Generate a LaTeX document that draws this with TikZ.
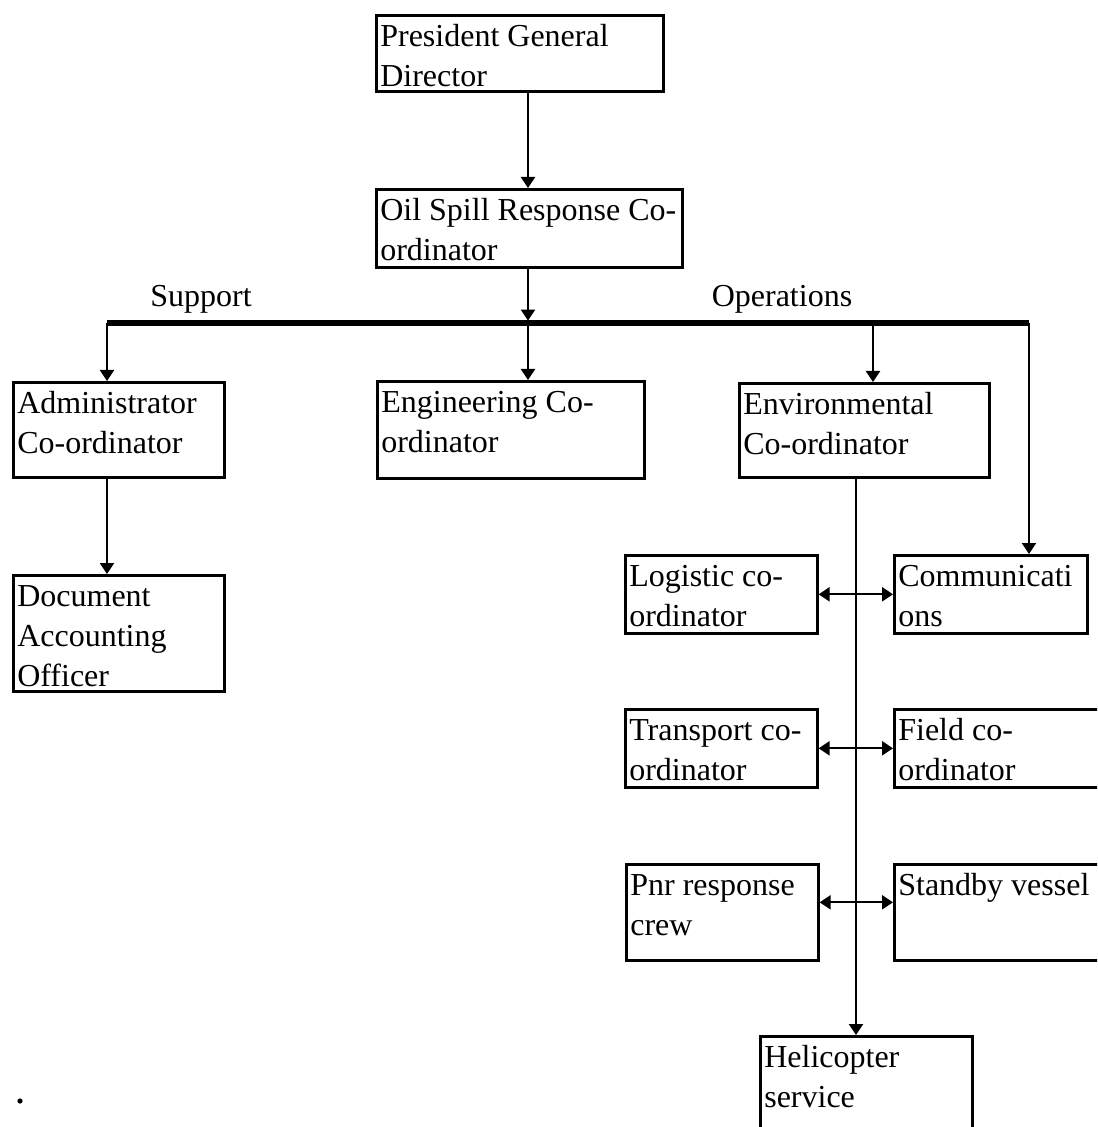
\documentclass[tikz,border=0pt]{standalone}
\usepackage{fontspec}
\setmainfont{Liberation Serif}
\usetikzlibrary{arrows.meta}

\begin{document}
\begin{tikzpicture}[x=0.5pt,y=-0.5pt,font=\fontsize{16}{20}\selectfont,
    unit/.style={draw,line width=1.3pt,anchor=north west,inner xsep=2pt,inner ysep=0pt,
                 align=flush left,text height=15.5pt},
    link/.style={line width=1.1pt,-{Triangle[length=5.5pt,width=7pt]}},
    twoway/.style={line width=1.1pt,{Triangle[length=5.5pt,width=7pt]}-{Triangle[length=5.5pt,width=7pt]}},
    bus/.style={line width=2.6pt}]
  \useasboundingbox (0,0) rectangle (1097,1127);
  \clip (0,0) rectangle (1097,1127);

  \node[unit,text width=139.5pt,text depth=22.5pt] (pres) at (375,14) {President General\\Director};
  \node[unit,text width=149pt,text depth=23.5pt] (osr) at (375,188) {\mbox{Oil Spill Response Co-}\\ordinator};

  \node[unit,text width=101.5pt,text depth=32pt] (admin) at (12,381) {Administrator\\Co-ordinator};
  \node[unit,text width=129.5pt,text depth=33pt] (eng) at (376,380) {Engineering Co-\\ordinator};
  \node[unit,text width=121pt,text depth=31.5pt] (env) at (738,382) {Environmental\\Co-ordinator};
  \node[unit,text width=101.5pt,text depth=42.5pt] (doc) at (12,574) {Document\\Accounting\\Officer};

  \node[unit,text width=92pt,text depth=23.5pt] (log) at (624,554) {Logistic co-\\ordinator};
  \node[unit,text width=92.5pt,text depth=23.5pt] (comm) at (893,554) {Communicati\\ons};
  \node[unit,text width=92pt,text depth=23.5pt] (trans) at (624,708) {Transport co-\\ordinator};
  \node[unit,text width=106pt,text depth=23.5pt] (field) at (893,708) {Field co-\\ordinator};
  \node[unit,text width=92pt,text depth=32.5pt] (pnr) at (625,863) {Pnr response\\crew};
  \node[unit,text width=106pt,text depth=32.5pt] (standby) at (893,863) {Standby vessel};
  \node[unit,text width=102pt,text depth=39.5pt] (heli) at (759,1035) {Helicopter\\service};

  \node[anchor=base] (support) at (201,307) {Support};
  \node[anchor=base] (ops) at (782,307) {Operations};

  \coordinate (busL) at (107,323);
  \coordinate (busM) at (528,323);
  \coordinate (busE) at (873,323);
  \coordinate (busR) at (1029,323);
  \coordinate (spine) at (856,0);
  \coordinate (dot) at (20,1101);

  \draw[bus] (busL) -- (busR);
  \draw[link] (pres.south -| busM) -- (osr.north -| busM);
  \draw[link,shorten >=1.2pt] (osr.south -| busM) -- (busM);
  \draw[link] (busL) -- (admin.north -| busL);
  \draw[link] (busM) -- (eng.north -| busM);
  \draw[link] (busE) -- (env.north -| busE);
  \draw[link] (busR) -- (comm.north -| busR);
  \draw[link] (admin.south -| busL) -- (doc.north -| busL);
  \draw[link] (env.south -| spine) -- (heli.north -| spine);
  \draw[twoway] (log.east) -- (comm.west);
  \draw[twoway] (trans.east) -- (field.west);
  \draw[twoway] ([yshift=5pt]pnr.east) -- ([yshift=5pt]standby.west);

  \fill (dot) circle[radius=1.3pt];
\end{tikzpicture}
\end{document}
